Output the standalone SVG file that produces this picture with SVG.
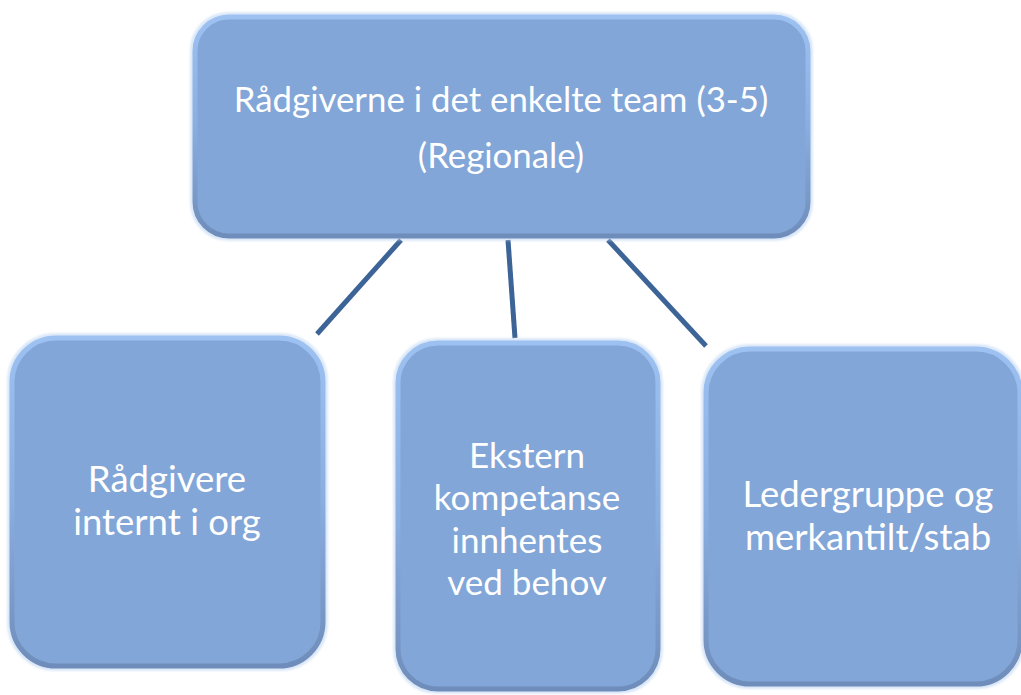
<svg xmlns="http://www.w3.org/2000/svg" width="1021" height="695" viewBox="0 0 1021 695">
<defs>
<linearGradient id="edge" x1="0" y1="0" x2="0" y2="1">
<stop offset="0" stop-color="#9dc1f1"/>
<stop offset="0.5" stop-color="#8aaee0"/>
<stop offset="1" stop-color="#6f8dba"/>
</linearGradient>
<filter id="soft" x="-5%" y="-5%" width="110%" height="110%">
<feGaussianBlur stdDeviation="1.5"/>
</filter>
</defs>
<style>
.box{fill:#82a6d7;stroke:url(#edge);stroke-width:5}
.glow{fill:none;stroke:#b9d2f2;stroke-width:2;filter:url(#soft)}
.lbl{font-family:Lato,"Open Sans",sans-serif;fill:#ffffff;text-anchor:middle}
.conn{stroke:#3d6496;stroke-width:5;fill:none}
</style>
<g id="connectors">
<line class="conn" x1="401" y1="240" x2="317" y2="334"/>
<line class="conn" x1="508" y1="240" x2="515" y2="338"/>
<line class="conn" x1="608" y1="240" x2="706" y2="346"/>
</g>
<g id="node-top">
<rect class="glow" x="192" y="14" width="619" height="225" rx="36"/>
<rect class="box" x="195" y="17" width="613" height="219" rx="34"/>
<text class="lbl" x="501" y="112" font-size="34.8">Rådgiverne i det enkelte team (3-5)</text>
<text class="lbl" x="501" y="168" font-size="34.8">(Regionale)</text>
</g>
<g id="node-left">
<rect class="glow" x="9" y="335" width="317" height="334" rx="46"/>
<rect class="box" x="12" y="338" width="311" height="328" rx="44"/>
<text class="lbl" x="167" y="492" font-size="36.5">Rådgivere</text>
<text class="lbl" x="167" y="535" font-size="36.5">internt i org</text>
</g>
<g id="node-middle">
<rect class="glow" x="395" y="340" width="266" height="352" rx="42"/>
<rect class="box" x="398" y="343" width="260" height="346" rx="40"/>
<text class="lbl" x="527" y="468" font-size="35">Ekstern</text>
<text class="lbl" x="527" y="510" font-size="35">kompetanse</text>
<text class="lbl" x="527" y="553" font-size="35">innhentes</text>
<text class="lbl" x="527" y="595" font-size="35">ved behov</text>
</g>
<g id="node-right">
<rect class="glow" x="703" y="346" width="320" height="341" rx="46"/>
<rect class="box" x="706" y="349" width="314" height="335" rx="44"/>
<text class="lbl" x="868" y="507" font-size="36.5">Ledergruppe og</text>
<text class="lbl" x="868" y="550" font-size="36.5">merkantilt/stab</text>
</g>
</svg>
